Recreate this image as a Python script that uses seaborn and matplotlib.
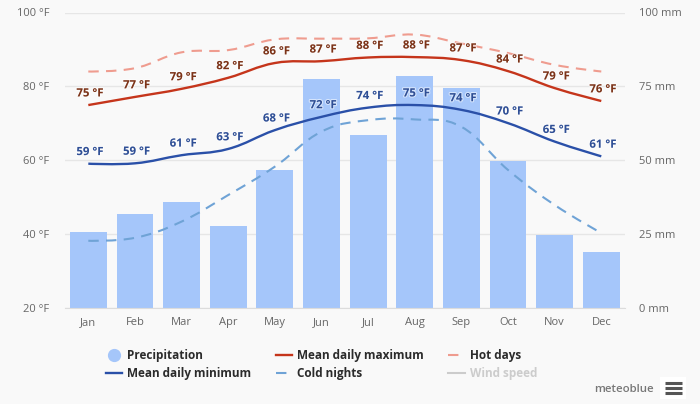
#!/usr/bin/env python
import matplotlib
matplotlib.use("Agg")
import matplotlib.pyplot as plt
import matplotlib.patheffects as pe
import seaborn as sns
from matplotlib.lines import Line2D
from matplotlib.patches import PathPatch, Rectangle
from matplotlib.path import Path

months = ["Jan", "Feb", "Mar", "Apr", "May", "Jun", "Jul", "Aug", "Sep", "Oct", "Nov", "Dec"]
precipitation = [25.6, 31.7, 35.8, 27.6, 46.6, 77.5, 58.5, 78.5, 74.4, 49.7, 24.6, 18.8]
mean_max = [74.9, 77.1, 79.3, 82.3, 86.3, 86.8, 87.8, 87.9, 87.1, 84.1, 79.5, 76.0]
mean_min = [59.0, 59.1, 61.3, 63.0, 68.1, 71.7, 74.2, 74.9, 73.6, 70.0, 65.0, 61.0]
hot_days = [84.0, 84.9, 89.2, 89.8, 92.7, 92.9, 93.0, 94.0, 91.6, 89.0, 85.8, 84.0]
cold_nights = [38.1, 38.9, 43.3, 50.5, 58.2, 67.7, 70.8, 71.0, 69.0, 57.3, 47.8, 40.2]
max_labels = [75, 77, 79, 82, 86, 87, 88, 88, 87, 84, 79, 76]
min_labels = [59, 59, 61, 63, 68, 72, 74, 75, 74, 70, 65, 61]
temp_ticks = [20, 40, 60, 80, 100]
precip_ticks = [0, 25, 50, 75, 100]

BG = "#f9f9f9"
BAR = "#a5c6fa"
RED = "#c5351b"
BLUE = "#2a50a8"
HOT = "#ef9c8f"
COLD = "#6fa3d6"
TICK = "#666666"
FONT = "Open Sans"

plt.rcParams["font.family"] = [FONT, "DejaVu Sans"]


def spline(values, smoothing=1.5):
    # same kind of curve the web chart draws: beziers through the monthly points
    x = list(range(len(values)))
    verts = [(x[0], values[0])]
    codes = [Path.MOVETO]
    handles = []
    for i in range(1, len(x) - 1):
        lx = (smoothing * x[i] + x[i - 1]) / (smoothing + 1)
        ly = (smoothing * values[i] + values[i - 1]) / (smoothing + 1)
        rx = (smoothing * x[i] + x[i + 1]) / (smoothing + 1)
        ry = (smoothing * values[i] + values[i + 1]) / (smoothing + 1)
        shift = ly + (ry - ly) * (x[i] - lx) / (rx - lx)
        ly += values[i] - shift
        ry += values[i] - shift
        handles.append(((lx, ly), (rx, ry)))
    prev = (x[0], values[0])
    for i in range(1, len(x)):
        c1 = prev if i == 1 else handles[i - 2][1]
        c2 = (x[i], values[i]) if i == len(x) - 1 else handles[i - 1][0]
        verts += [c1, c2, (x[i], values[i])]
        codes += [Path.CURVE4] * 3
        prev = (x[i], values[i])
    return Path(verts, codes)


fig = plt.figure(figsize=(7, 4.04), dpi=100, facecolor=BG)
ax = fig.add_axes([65 / 700, 1 - 307.5 / 404, 559.6 / 700, 295 / 404], facecolor=BG)

sns.barplot(x=months, y=precipitation, color=BAR, saturation=1, width=0.79, ax=ax, zorder=2)
ax.set_xlim(-0.5, 11.5)
ax.set_ylim(0, 100)
ax.set_yticks(precip_ticks)
ax.set_yticklabels([f"{t} mm" for t in precip_ticks])
ax.grid(axis="y", color="#e6e6e6", linewidth=1, zorder=0)
ax.set_axisbelow(True)
ax.tick_params(axis="x", length=0, pad=7, labelsize=8, labelcolor=TICK)
ax.set_xlabel("")
ax.set_ylabel("")
for side in ["top", "left", "right"]:
    ax.spines[side].set_visible(False)
ax.spines["bottom"].set_color("#dcdcdc")

temp = ax.twinx()
ax.yaxis.tick_right()
ax.tick_params(axis="y", length=0, pad=10.5, labelsize=8, labelcolor=TICK)
temp.set_ylim(20, 100)
temp.set_yticks(temp_ticks)
temp.set_yticklabels([f"{t} °F" for t in temp_ticks])
temp.yaxis.tick_left()
temp.tick_params(axis="y", length=0, pad=11.5, labelsize=8, labelcolor=TICK)
temp.patch.set_visible(False)
for side in temp.spines:
    temp.spines[side].set_visible(False)

series = [
    (hot_days, HOT, (0, (5, 3.5)), 1.5),
    (cold_nights, COLD, (0, (5, 3.5)), 1.5),
    (mean_max, RED, "-", 1.7),
    (mean_min, BLUE, "-", 1.7),
]
for values, color, style, width in series:
    temp.add_patch(PathPatch(spline(values), fill=False, edgecolor=color, linestyle=style, linewidth=width, capstyle="butt"))

halo = [pe.withStroke(linewidth=1.6, foreground="white", alpha=0.55)]
for i, (hi, lo) in enumerate(zip(max_labels, min_labels)):
    temp.annotate(f"{hi} °F", (i, mean_max[i]), xytext=(1.2, 8), textcoords="offset points", ha="center", va="center",
                  fontsize=8.2, fontweight="bold", color="#7c3318", path_effects=halo)
    temp.annotate(f"{lo} °F", (i, mean_min[i]), xytext=(1.2, 8), textcoords="offset points", ha="center", va="center",
                  fontsize=8.2, fontweight="bold", color="#2f4f96", path_effects=halo)

legend_handles = [
    Line2D([], [], linestyle="none", marker="o", markersize=8.5, color=BAR),
    Line2D([], [], color=BLUE, linewidth=1.7),
    Line2D([], [], color=RED, linewidth=1.7),
    Line2D([], [], color=COLD, linewidth=1.5, linestyle=(0, (5, 3.5, 1, 10))),
    Line2D([], [], color=HOT, linewidth=1.5, linestyle=(0, (5, 3.5, 1, 10))),
    Line2D([], [], color="#cccccc", linewidth=1.5),
]
legend_labels = ["Precipitation", "Mean daily minimum", "Mean daily maximum", "Cold nights", "Hot days", "Wind speed"]
leg = fig.legend(
    legend_handles,
    legend_labels,
    loc="upper left",
    bbox_to_anchor=(106 / 700, 1 - 349 / 404),
    ncol=3,
    frameon=False,
    borderpad=0,
    borderaxespad=0,
    prop={"family": FONT, "weight": "bold", "size": 8.5},
    handlelength=1.36,
    handletextpad=0.42,
    columnspacing=2.1,
    labelspacing=0.45,
    labelcolor="#2b2b2b",
)
leg.get_texts()[-1].set_color("#cccccc")

fig.text(654 / 700, 1 - 389 / 404, "meteoblue", ha="right", va="center", fontsize=8.2, color="#777777", fontweight="semibold")
fig.add_artist(Rectangle((660 / 700, 1 - 399 / 404), 26 / 700, 22 / 404, transform=fig.transFigure, facecolor="#ffffff", edgecolor="none"))
for y in [382.5, 388, 393]:
    fig.add_artist(Line2D([665 / 700, 682 / 700], [1 - y / 404] * 2, color="#555555", linewidth=2.2, solid_capstyle="butt", transform=fig.transFigure))

plt.savefig("out.png", dpi=100, facecolor=BG)
